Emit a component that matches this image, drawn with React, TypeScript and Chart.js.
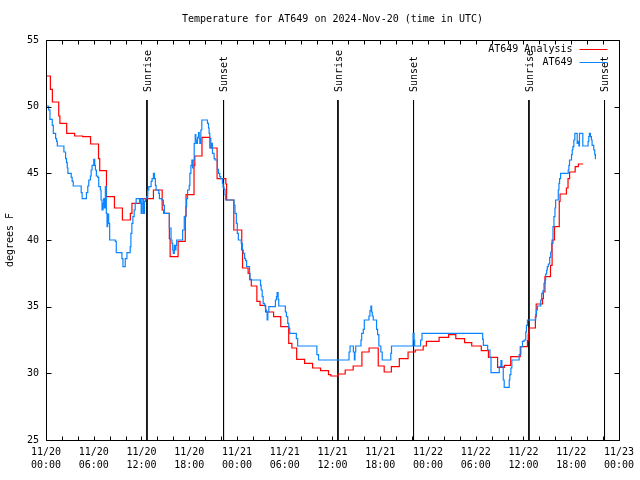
import React, { useEffect, useRef } from 'react';
import { Chart, registerables } from 'chart.js';

Chart.register(...registerables);

const FONT = '"DejaVu Sans Mono", "Liberation Mono", monospace';

const TITLE = 'Temperature for AT649 on 2024-Nov-20 (time in UTC)';
const Y_TITLE = 'degrees F';
const ANALYSIS_LABEL = 'AT649 Analysis';
const OBS_LABEL = 'AT649';

// hours since 2024-11-20 00:00 UTC at which the value changes, and the new value (deg F)
const analysisHours = [
  0, 0.55, 0.8, 1.6, 1.75, 2.6, 3.6, 4.6, 5.6, 6.6, 6.75, 7.6, 8.6, 9.6, 10.6, 10.8, 11.8,
  13.5, 14.6, 14.8, 15.5, 15.6, 16.6, 17.5, 17.6, 18.6, 18.7, 19.6, 20.6, 21.5, 22.6, 22.7,
  23.6, 24.6, 24.7, 25.4, 25.6, 25.8, 26.5, 26.9, 27.6, 28.6, 29.5, 30.5, 30.9, 31.5, 32.5,
  33.5, 34.5, 35.5, 35.8, 36.7, 37.6, 38.6, 39.7, 40.6, 41.75, 42.5, 43.4, 44.4, 45.5, 46.4,
  47.4, 47.8, 49.4, 50.6, 51.5, 52.6, 53.5, 54.7, 55.6, 56.75, 57.6, 58.4, 59.6, 60.5, 60.6,
  60.7, 61.5, 61.6, 62.4, 62.5, 62.7, 63.4, 63.6, 63.9, 64.5, 64.6, 65.4, 65.6, 65.8, 66.5,
  66.9, 67.5,
];
const analysisTemps = [
  52.3, 51.3, 50.35, 49.3, 48.75, 48.0, 47.8, 47.75, 47.2, 46.1, 45.2, 43.25, 42.4, 41.5, 42.0, 42.75, 43.1,
  43.75, 42.25, 42.0, 40.1, 38.75, 39.9, 41.8, 43.4, 45.6, 46.3, 47.7, 46.9, 44.6, 44.2, 43.0,
  40.75, 39.25, 37.9, 37.5, 37.05, 36.55, 35.4, 35.1, 34.6, 34.25, 33.5, 32.25, 31.9, 31.05, 30.75,
  30.4, 30.2, 29.9, 29.8, 29.95, 30.25, 30.55, 31.6, 31.9, 30.55, 30.1, 30.5, 31.1, 31.6, 31.75,
  32.05, 32.4, 32.7, 32.9, 32.6, 32.3, 32.05, 31.7, 31.2, 30.45, 30.6, 31.25, 32.0, 32.45, 32.95,
  33.4, 34.25, 35.2, 35.6, 36.1, 37.25, 38.1, 40.0, 41.0, 42.9, 43.45, 43.9, 44.6, 45.1, 45.5,
  45.7, 45.7,
];

const obsHours = [
  0, 0.33, 0.5, 0.79, 0.92, 1.21, 1.33, 1.42, 2.25, 2.46, 2.58, 2.67, 2.75, 3.17, 3.29, 3.42,
  4.42, 4.54, 5.08, 5.25, 5.375, 5.58, 5.67, 5.79, 6.0, 6.125, 6.21, 6.33, 6.5, 6.625, 6.83,
  6.92, 7.04, 7.17, 7.25, 7.33, 7.46, 7.58, 7.67, 7.75, 7.875, 8.0, 8.71, 8.83, 9.54, 9.67,
  9.96, 10.17, 10.58, 10.67, 10.79, 10.92, 11.08, 11.21, 11.33, 11.75, 11.875, 11.96, 12.08,
  12.17, 12.25, 12.375, 12.5, 12.67, 12.79, 12.92, 13.21, 13.33, 13.5, 13.625, 13.75, 13.83,
  14.17, 14.25, 14.58, 14.75, 14.875, 15.5, 15.71, 15.83, 15.92, 16.0, 16.125, 16.25, 16.33,
  16.42, 17.17, 17.375, 17.58, 17.67, 17.79, 18.0, 18.08, 18.21, 18.33, 18.42, 18.5, 18.625,
  18.75, 18.83, 18.92, 19.04, 19.17, 19.25, 19.33, 19.46, 19.58, 20.29, 20.42, 20.5, 20.58,
  20.71, 20.83, 20.92, 21.125, 21.25, 21.54, 21.67, 21.83, 21.96, 22.17, 22.25, 22.375, 22.5,
  22.58, 23.625, 23.75, 23.92, 24.04, 24.17, 24.54, 24.67, 24.79, 24.96, 25.08, 25.21, 25.58,
  25.625, 26.96, 27.04, 27.17, 27.29, 27.46, 27.58, 27.71, 27.79, 27.875, 28.0, 28.83, 28.96,
  29.04, 29.17, 29.25, 30.08, 30.21, 30.375, 30.5, 30.625, 31.46, 31.625, 34.04, 34.25, 38.08,
  38.21, 38.625, 38.75, 38.83, 38.92, 39.58, 39.67, 39.875, 40.0, 40.58, 40.71, 40.83, 40.92,
  41.0, 41.125, 41.54, 41.67, 41.83, 42.08, 42.25, 43.33, 43.42, 46.125, 46.25, 46.33, 47.08,
  47.25, 54.875, 54.96, 55.5, 55.79, 55.92, 56.96, 57.17, 57.29, 57.46, 57.58, 58.21, 58.29,
  58.42, 58.54, 59.46, 59.67, 59.875, 60.08, 60.29, 60.375, 60.5, 61.54, 61.625, 61.75, 62.17,
  62.29, 62.46, 62.58, 62.71, 62.79, 62.92, 63.0, 63.125, 63.29, 63.42, 63.54, 63.71, 63.83,
  63.96, 64.04, 64.375, 64.46, 64.54, 64.67, 65.625, 65.71, 65.79, 66.04, 66.125, 66.21, 66.33,
  66.46, 66.75, 66.875, 66.96, 67.04, 67.46, 68.125, 68.21, 68.29, 68.42, 68.54, 68.625, 68.83,
  68.96, 69.04,
];
const obsTemps = [
  50.05, 49.75, 49.05, 48.6, 48.0, 47.6, 47.4, 47.05, 46.6, 46.1, 45.8, 45.4, 45.0, 44.7, 44.4, 44.05,
  43.55, 43.1, 43.55, 44.05, 44.5, 44.8, 45.25, 45.6, 46.05, 45.6, 45.25, 44.8, 44.7, 44.0, 43.75,
  43.0, 42.25, 42.75, 43.1, 42.4, 44.0, 42.0, 41.0, 41.95, 41.25, 40.0, 39.9, 39.05, 38.6, 38.0,
  38.6, 39.05, 39.5, 40.5, 41.25, 41.75, 42.25, 42.75, 43.1, 42.75, 43.1, 42.0, 42.75,
  43.1, 42.0, 42.9, 43.1, 43.25, 43.75, 44.0, 44.4, 44.6, 45.0, 44.6, 44.1, 43.75,
  43.5, 43.1, 43.0, 42.6, 42.0, 40.9, 40.0, 39.75, 39.25, 39.0, 39.6, 39.25, 39.6,
  40.0, 40.75, 41.75, 42.5, 43.1, 43.75, 44.1, 45.0, 45.6, 46.0, 45.4, 46.0, 47.25,
  47.9, 47.5, 47.25, 47.7, 48.05, 47.6, 47.25, 48.25, 49.0, 48.75, 48.4, 48.0, 47.6,
  46.9, 47.25, 46.5, 46.1, 46.0, 45.3, 45.0, 44.75, 44.6, 44.25, 43.95, 43.8, 43.4,
  43.0, 42.6, 42.0, 41.25, 40.5, 40.0, 39.75, 39.25, 39.0, 38.6, 38.45, 38.0, 37.5,
  37.0, 36.6, 36.25, 35.75, 35.25, 35.05, 34.75, 34.6, 34.0, 34.6, 35.0, 35.5, 35.75,
  36.05, 35.55, 35.05, 34.6, 34.25, 33.75, 33.4, 33.0, 32.6, 32.05, 31.4, 31.0, 31.6,
  32.05, 31.6, 31.0, 31.6, 32.05, 32.5, 33.0, 33.3, 34.0, 34.3, 34.7, 35.05, 34.6,
  34.3, 34.0, 33.3, 32.9, 32.05, 31.6, 31.0, 31.5, 32.05, 33.0, 32.5, 32.05, 32.5,
  33.0, 32.55, 32.1, 31.75, 31.2, 30.05, 30.5, 30.95, 30.5, 29.5, 28.95, 29.5, 29.9,
  30.4, 31.0, 31.4, 32.0, 32.4, 32.5, 33.1, 33.6, 34.0, 34.4, 34.75, 35.05, 35.5,
  36.0, 36.2, 36.75, 37.0, 37.45, 37.75, 38.0, 38.2, 38.7, 39.1, 39.75, 41.0, 41.75,
  42.4, 43.0, 43.75, 44.25, 44.6, 45.0, 45.25, 45.6, 46.0, 46.4, 46.75, 47.0, 47.5,
  48.0, 47.25, 47.4, 47.05, 48.0, 47.05, 47.4, 47.75, 48.0, 47.75, 47.5, 47.1, 46.75,
  46.4, 46.05,
];

const sunHours = [12.6875, 22.3125, 36.6875, 46.1875, 60.6875, 70.1875];
const sunNames = ['Sunrise', 'Sunset', 'Sunrise', 'Sunset', 'Sunrise', 'Sunset'];
const SUN_LINE_TOP = 50.5;

const xTickDates = ['11/20', '11/20', '11/20', '11/20', '11/21', '11/21', '11/21', '11/21', '11/22', '11/22', '11/22', '11/22', '11/23'];
const xTickTimes = ['00:00', '06:00', '12:00', '18:00', '00:00', '06:00', '12:00', '18:00', '00:00', '06:00', '12:00', '18:00', '00:00'];

const X_MIN = 0;
const X_MAX = 72;
const X_MINOR_STEP = 2;
const X_LABEL_STEP = 6;
const Y_MIN = 25;
const Y_MAX = 55;
const Y_STEP = 5;

const RED = '#ff0000';
const BLUE = '#0a84ff';

const framePlugin = {
  id: 'gnuplotFrame',
  afterDraw(chart: any) {
    const { ctx, chartArea } = chart;
    const xs = chart.scales.x;
    const ys = chart.scales.y;
    const L = Math.round(chartArea.left) + 0.5;
    const R = Math.round(chartArea.right) + 0.5;
    const T = Math.round(chartArea.top) + 0.5;
    const B = Math.round(chartArea.bottom) + 0.5;
    ctx.save();
    ctx.strokeStyle = '#000';
    ctx.lineWidth = 1;
    ctx.beginPath();
    ctx.rect(L, T, R - L, B - T);
    // y ticks (inward, both sides)
    ys.ticks.forEach((t: any) => {
      const py = Math.round(ys.getPixelForValue(t.value)) + 0.5;
      ctx.moveTo(L, py); ctx.lineTo(L + 5, py);
      ctx.moveTo(R, py); ctx.lineTo(R - 5, py);
    });
    // x ticks (inward, bottom and top)
    xs.ticks.forEach((t: any) => {
      const px = Math.round(xs.getPixelForValue(t.value)) + 0.5;
      ctx.moveTo(px, B); ctx.lineTo(px, B - 4);
      ctx.moveTo(px, T); ctx.lineTo(px, T + 4);
    });
    ctx.stroke();

    // sunrise / sunset labels
    ctx.fillStyle = '#000';
    ctx.font = `10px ${FONT}`;
    const topPx = ys.getPixelForValue(SUN_LINE_TOP);
    sunHours.forEach((h, i) => {
      const px = xs.getPixelForValue(h);
      ctx.save();
      ctx.translate(px + 1, topPx - 8);
      ctx.rotate(-Math.PI / 2);
      ctx.textAlign = 'left';
      ctx.textBaseline = 'middle';
      ctx.fillText(sunNames[i], 0, 0);
      ctx.restore();
    });

    // legend (gnuplot style: text right aligned, sample line to the right)
    const entries = [
      { label: ANALYSIS_LABEL, color: RED },
      { label: OBS_LABEL, color: BLUE },
    ];
    entries.forEach((e, i) => {
      const y = Math.round(chartArea.top) + 9 + i * 13;
      ctx.fillStyle = '#000';
      ctx.textAlign = 'right';
      ctx.textBaseline = 'middle';
      ctx.fillText(e.label, R - 47, y + 0.5);
      ctx.strokeStyle = e.color;
      ctx.lineWidth = 1;
      ctx.beginPath();
      ctx.moveTo(R - 40, y + 0.5);
      ctx.lineTo(R - 12, y + 0.5);
      ctx.stroke();
    });
    ctx.restore();
  },
};

export default function App() {
  const canvasRef = useRef<HTMLCanvasElement | null>(null);

  useEffect(() => {
    if (!canvasRef.current) return;
    const sunDatasets = sunHours.map((h) => ({
      label: '',
      data: [{ x: h, y: SUN_LINE_TOP }, { x: h, y: Y_MIN }],
      borderColor: '#000',
      borderWidth: 1,
      pointRadius: 0,
      fill: false,
      order: 3,
    }));
    const chart = new Chart(canvasRef.current, {
      type: 'line',
      data: {
        datasets: [
          {
            label: ANALYSIS_LABEL,
            data: analysisHours.map((h, i) => ({ x: h, y: analysisTemps[i] })),
            borderColor: RED,
            borderWidth: 1.2,
            pointRadius: 0,
            stepped: true,
            fill: false,
            order: 2,
          },
          {
            label: OBS_LABEL,
            data: obsHours.map((h, i) => ({ x: h, y: obsTemps[i] })),
            borderColor: BLUE,
            borderWidth: 1.2,
            pointRadius: 0,
            stepped: true,
            fill: false,
            order: 1,
          },
          ...sunDatasets,
        ] as any,
      },
      options: {
        responsive: false,
        animation: false,
        devicePixelRatio: 1,
        layout: { padding: { left: 0, right: 18, top: 0, bottom: 0 } },
        plugins: {
          legend: { display: false },
          tooltip: { enabled: false },
          title: {
            display: true,
            text: TITLE,
            color: '#000',
            fullSize: false,
            font: { family: FONT, size: 10, weight: 'normal', lineHeight: 1.2 },
            padding: { top: 13, bottom: 15 },
          },
        },
        scales: {
          x: {
            type: 'linear',
            position: 'bottom',
            min: X_MIN,
            max: X_MAX,
            grid: { display: false, drawTicks: false, tickLength: 0 },
            border: { display: false },
            ticks: {
              stepSize: X_MINOR_STEP,
              autoSkip: false,
              maxRotation: 0,
              minRotation: 0,
              padding: 6,
              color: '#000',
              font: { family: FONT, size: 10, lineHeight: 1.3 },
              callback: (v: any) => {
                const n = Number(v);
                if (n % X_LABEL_STEP !== 0) return '';
                const i = n / X_LABEL_STEP;
                return [xTickDates[i], xTickTimes[i]];
              },
            },
            afterFit: (s: any) => { s.height = 40; },
          },
          y: {
            type: 'linear',
            min: Y_MIN,
            max: Y_MAX,
            grid: { display: false, drawTicks: false, tickLength: 0 },
            border: { display: false },
            ticks: {
              stepSize: Y_STEP,
              padding: 7,
              color: '#000',
              font: { family: FONT, size: 10 },
            },
            title: {
              display: true,
              text: Y_TITLE,
              color: '#000',
              font: { family: FONT, size: 10, lineHeight: 1.2 },
              padding: { top: 4, bottom: 0 },
            },
            afterFit: (s: any) => { s.width = 46; },
          },
        },
      } as any,
      plugins: [framePlugin],
    });
    return () => chart.destroy();
  }, []);

  return (
    <div style={{ position: 'absolute', left: 0, top: 0, width: 640, height: 480, background: '#fff' }}>
      <canvas ref={canvasRef} width={640} height={480} />
    </div>
  );
}
